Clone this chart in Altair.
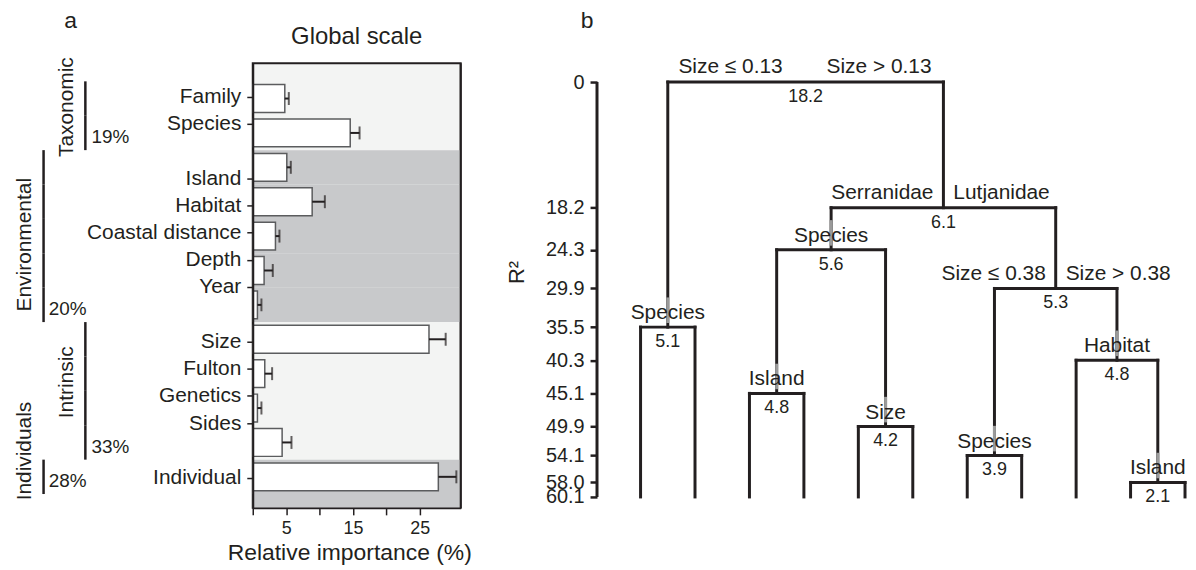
import altair as alt
import pandas as pd

FONT = "Liberation Sans"
INK = "#231f20"
LIGHT = "#f3f4f3"
GREY = "#c8c9cb"
BAR_EDGE = "#5b5c5e"
HALO = "#9a9a9a"

# ---------------- Panel a data ----------------
predictors = ["Family", "Species", "Island", "Habitat", "Coastal distance", "Depth", "Year",
              "Size", "Fulton", "Genetics", "Sides", "Individual"]
predictor_group = ["Taxonomic", "Taxonomic",
                   "Environmental", "Environmental", "Environmental", "Environmental", "Environmental",
                   "Intrinsic", "Intrinsic", "Intrinsic", "Intrinsic",
                   "Individuals"]
importance = [4.8, 14.6, 5.1, 8.9, 3.4, 1.7, 0.7, 26.4, 1.8, 0.7, 4.4, 27.8]
importance_upper = [5.4, 16.0, 5.7, 10.8, 4.0, 3.0, 1.3, 28.9, 2.9, 1.3, 5.8, 30.5]
label_rows = ["Family", "Species", "gap1", "Island", "Habitat", "Coastal distance", "Depth", "Year",
              "gap2", "Size", "Fulton", "Genetics", "Sides", "gap3", "Individual"]
group_names = ["Taxonomic", "Environmental", "Intrinsic", "Individuals"]
group_share = ["19%", "20%", "33%", "28%"]
group_level = ["inner", "outer", "inner", "outer"]
group_label_row = ["Family", "Coastal distance", "Fulton", "Sides"]
shaded_groups = ["Environmental", "Individuals"]
x_ticks_a = [0, 5, 10, 15, 20, 25]
panel_a_title = "Global scale"

# ---------------- Panel b data ----------------
r2_ticks = [0, 18.2, 24.3, 29.9, 35.5, 40.3, 45.1, 49.9, 54.1, 58.0, 60.1]
r2_total = 60.1
node_id = ["root", "fam", "sp2", "s38", "sp1", "hab", "is1", "sz", "sp3", "is2"]
node_name = ["", "", "Species", "", "Species", "Habitat", "Island", "Size", "Species", "Island"]
node_left_text = ["Size \u2264 0.13", "Serranidae", "", "Size \u2264 0.38", "", "", "", "", "", ""]
node_right_text = ["Size > 0.13", "Lutjanidae", "", "Size > 0.38", "", "", "", "", "", ""]
node_r2 = [0, 18.2, 24.3, 29.9, 35.5, 40.3, 45.1, 49.9, 54.1, 58.0]
node_gain = [18.2, 6.1, 5.6, 5.3, 5.1, 4.8, 4.8, 4.2, 3.9, 2.1]
node_left = ["sp1", "sp2", "is1", "sp3", "leaf", "leaf", "leaf", "leaf", "leaf", "leaf"]
node_right = ["fam", "s38", "sz", "hab", "leaf", "is2", "leaf", "leaf", "leaf", "leaf"]

# ================= Panel a =================
W_A, H_A = 209, 447
pa = pd.DataFrame({"cat": predictors, "group": predictor_group,
                   "val": importance, "upper": importance_upper})
pa["shaded"] = pa["group"].isin(shaded_groups)
pa["level"] = pa["group"].map(dict(zip(group_names, group_level)))
grp_last = [[c for c, g in zip(predictors, predictor_group) if g == n][-1] for n in group_names]
grp = pd.DataFrame({"group": group_names, "share": group_share, "level": group_level,
                    "mid": group_label_row, "last": grp_last})

scaleA = alt.Scale(type="band", domain=predictors, paddingInner=0, paddingOuter=0.466, align=0.568)
scaleB = alt.Scale(type="band", domain=label_rows, paddingInner=0, paddingOuter=0.67, align=0.555)
xA = alt.Scale(domain=[0, 31.15], nice=False, zero=True)
X_TITLE = "Relative importance (%)"
x_axis_a = alt.Axis(values=x_ticks_a, labelExpr="datum.value % 10 == 5 ? datum.label : ''",
                    tickSize=7, tickWidth=1.5, tickColor=INK, domainColor=INK, domainWidth=2,
                    labelFontSize=18, labelPadding=5, titleFontSize=23, titleFontWeight="normal",
                    titlePadding=4, titleX=97, grid=False, zindex=1, labelFlush=False)


def yA(field, **kw):
    return alt.Y(field, scale=scaleA, axis=None, **kw)


def xA_enc(field):
    return alt.X(field, scale=xA, axis=x_axis_a, title=X_TITLE)


baseA = alt.Chart(pa)
bg = baseA.transform_filter("datum.shaded").mark_rect(color=GREY).encode(
    y=yA("cat:N"), x=alt.value(0), x2=alt.value("width"))
bg_tail = baseA.transform_filter(
    f"datum.cat == '{predictors[-1]}' && datum.shaded").mark_rect(color=GREY).encode(
    y=yA("cat:N"), y2=alt.value("height"), x=alt.value(0), x2=alt.value("width"))
frame_right = alt.Chart(pd.DataFrame({"t": [0]})).mark_rule(color=INK, strokeWidth=2).encode(
    x=alt.value("width"), y=alt.value(0), y2=alt.value("height"))
bars = baseA.mark_bar(fill="white", stroke=BAR_EDGE, strokeWidth=1.5,
                      height={"band": 0.81}).encode(y=yA("cat:N"), x=xA_enc("val:Q"))
err = baseA.mark_rule(color=INK, strokeWidth=2).encode(
    y=yA("cat:N"), x=xA_enc("val:Q"), x2="upper:Q")
cap = baseA.mark_tick(color=INK, thickness=2, size=13).encode(
    y=yA("cat:N"), x=xA_enc("upper:Q"))

brk_in = baseA.transform_filter("datum.level == 'inner'").mark_rect(color=INK).encode(
    y=yA("cat:N"), x=alt.value(-169.5), x2=alt.value(-167))
brk_out = baseA.transform_filter("datum.level == 'outer'").mark_rect(color=INK).encode(
    y=yA("cat:N"), x=alt.value(-211.5), x2=alt.value(-209))

baseG = alt.Chart(grp)
gname_in = baseG.transform_filter("datum.level == 'inner'").mark_text(
    angle=270, fontSize=21, color=INK, baseline="middle", align="center").encode(
    y=yA("mid:N", bandPosition=0.75), x=alt.value(-187), text="group:N")
gname_out = baseG.transform_filter("datum.level == 'outer'").mark_text(
    angle=270, fontSize=21, color=INK, baseline="middle", align="center").encode(
    y=yA("mid:N", bandPosition=0.75), x=alt.value(-229), text="group:N")
gpct_in = baseG.transform_filter("datum.level == 'inner'").mark_text(
    fontSize=19, color=INK, align="left", baseline="alphabetic", dy=-7).encode(
    y=yA("last:N", bandPosition=1), x=alt.value(-162), text="share:N")
gpct_out = baseG.transform_filter("datum.level == 'outer'").mark_text(
    fontSize=19, color=INK, align="left", baseline="alphabetic", dy=-7).encode(
    y=yA("last:N", bandPosition=1), x=alt.value(-205), text="share:N")

tag_a = alt.Chart(pd.DataFrame({"t": ["a"]})).mark_text(
    fontSize=23, color=INK, align="center", baseline="alphabetic").encode(
    text="t:N", x=alt.value(-183), y=alt.value(-35))
title_a = alt.Chart(pd.DataFrame({"t": [panel_a_title]})).mark_text(
    fontSize=24, color=INK, align="center", baseline="alphabetic").encode(
    text="t:N", x=alt.value(W_A / 2), y=alt.value(-19))

labels_axis = alt.Chart(pd.DataFrame({"row": label_rows})).mark_point(opacity=0).encode(
    y=alt.Y("row:N", scale=scaleB, title=None,
            axis=alt.Axis(values=predictors, orient="left", labelFontSize=21, labelColor=INK,
                          tickColor=INK, tickSize=6, tickWidth=1.5, domainColor=INK,
                          domainWidth=2, labelPadding=6, labelLimit=0, zindex=1)))

inner_a = alt.layer(bg, bg_tail, frame_right, bars, err, cap, brk_in, brk_out,
                    gname_in, gname_out, gpct_in, gpct_out, tag_a, title_a)
panel_a = alt.layer(inner_a, labels_axis).resolve_scale(y="independent").properties(
    width=W_A, height=H_A,
    view=alt.ViewBackground(fill=LIGHT, stroke=INK, strokeWidth=2))

# ================= Panel b =================
children = {n: (l, r) for n, l, r in zip(node_id, node_left, node_right)}
r2_of = dict(zip(node_id, node_r2))
name_of = dict(zip(node_id, node_name))
pos = {}
counter = [0]
segs, halos = [], []


def place(nid):
    y = r2_of[nid]
    cx = []
    for c in children[nid]:
        if c == "leaf":
            x = float(counter[0])
            counter[0] += 1
            cy = r2_total
        else:
            x = place(c)
            cy = r2_of[c]
            if name_of[c]:
                halos.append(dict(x=x, x2=x, y=cy - 4.3, y2=cy - 0.6))
        segs.append(dict(x=x, x2=x, y=y, y2=cy))
        cx.append(x)
    segs.append(dict(x=cx[0], x2=cx[1], y=y, y2=y))
    pos[nid] = (cx[0] + cx[1]) / 2
    return pos[nid]


place(node_id[0])
n_leaves = counter[0]
seg_df = pd.DataFrame(segs)
halo_df = pd.DataFrame(halos)
nodes = pd.DataFrame({"id": node_id, "x": [pos[n] for n in node_id], "y": node_r2,
                      "name": node_name, "lt": node_left_text, "rt": node_right_text,
                      "gain": node_gain})
nodes["is_root"] = nodes["id"] == node_id[0]

xB = alt.Scale(domain=[-0.8, n_leaves - 1], nice=False, zero=False)
yB = alt.Scale(domain=[-2.74, r2_total], reverse=True, nice=False, zero=False)
y_axis_b = alt.Axis(values=r2_ticks, labelExpr="datum.value == 0 ? '0' : format(datum.value, '.1f')",
                    domain=False, grid=False, tickSize=7, tickWidth=2.5, tickColor=INK,
                    labelFontSize=20, labelColor=INK, labelPadding=6, labelOverlap=False,
                    labelFlush=False, titleFontSize=22, titleFontWeight="normal", titleAngle=270,
                    titleAlign="center", titleBaseline="middle", titleX=-81, titleY=210, zindex=1)


def xB_enc(field):
    return alt.X(field, scale=xB, axis=None)


def yB_enc(field):
    return alt.Y(field, scale=yB, axis=y_axis_b, title="R\u00b2")


lines = alt.Chart(seg_df).mark_rule(color=INK, strokeWidth=3, strokeCap="square").encode(
    x=xB_enc("x:Q"), x2="x2:Q", y=yB_enc("y:Q"), y2="y2:Q")
halo = alt.Chart(halo_df).mark_rule(color=HALO, strokeWidth=3).encode(
    x=xB_enc("x:Q"), x2="x2:Q", y=yB_enc("y:Q"), y2="y2:Q")
axis_line = alt.Chart(pd.DataFrame({"lo": [r2_ticks[0]], "hi": [r2_total]})).mark_rule(
    color=INK, strokeWidth=3).encode(x=alt.value(0), y=yB_enc("lo:Q"), y2="hi:Q")

baseN = alt.Chart(nodes)
names = baseN.transform_filter("datum.name != ''").mark_text(
    fontSize=21, color=INK, baseline="alphabetic", align="center", dy=-8).encode(
    x=xB_enc("x:Q"), y=yB_enc("y:Q"), text="name:N")
gains = baseN.mark_text(fontSize=18, color=INK, baseline="top", align="center", dy=6).encode(
    x=xB_enc("x:Q"), y=yB_enc("y:Q"), text=alt.Text("gain:Q", format=".1f"))
lt_root = baseN.transform_filter("datum.is_root").mark_text(
    fontSize=21, color=INK, baseline="alphabetic", align="right", dx=-23, dy=-9).encode(
    x=xB_enc("x:Q"), y=yB_enc("y:Q"), text="lt:N")
rt_root = baseN.transform_filter("datum.is_root").mark_text(
    fontSize=21, color=INK, baseline="alphabetic", align="left", dx=21, dy=-9).encode(
    x=xB_enc("x:Q"), y=yB_enc("y:Q"), text="rt:N")
lt_in = baseN.transform_filter("!datum.is_root && datum.lt != ''").mark_text(
    fontSize=21, color=INK, baseline="alphabetic", align="right", dx=-10, dy=-9).encode(
    x=xB_enc("x:Q"), y=yB_enc("y:Q"), text="lt:N")
rt_in = baseN.transform_filter("!datum.is_root && datum.rt != ''").mark_text(
    fontSize=21, color=INK, baseline="alphabetic", align="left", dx=10, dy=-9).encode(
    x=xB_enc("x:Q"), y=yB_enc("y:Q"), text="rt:N")
tag_b = alt.Chart(pd.DataFrame({"t": ["b"]})).mark_text(
    fontSize=23, color=INK, align="center", baseline="alphabetic").encode(
    text="t:N", x=alt.value(-10), y=alt.value(-35))

panel_b = alt.layer(lines, halo, axis_line, names, gains, lt_root, rt_root, lt_in, rt_in, tag_b).properties(
    width=591, height=436)

chart = alt.hconcat(panel_a, panel_b, spacing=33).properties(
    padding={"left": 5, "top": 0, "right": 0, "bottom": 0}
).configure(font=FONT).configure_view(strokeWidth=0).configure_axis(
    labelFont=FONT, titleFont=FONT, labelColor=INK, titleColor=INK, grid=False)

chart.save("out.html", embed_options={"renderer": "svg", "actions": False})
